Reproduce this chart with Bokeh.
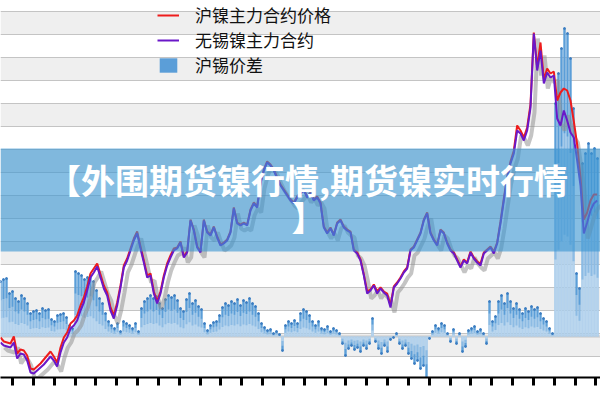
from bokeh.plotting import figure
from bokeh.models import (Range1d, FixedTicker, Legend, LegendItem, BoxAnnotation,
                          Label, Span, ColumnDataSource)
from bokeh.embed import file_html
from bokeh.resources import INLINE

# ---------------- data (price in thousand yuan/ton, spread in yuan/ton) -------------
week = list(range(180))
wuxi_ni = [77.5, 76, 75.5, 75, 77.5, 69.5, 72, 71.5, 68.5, 62.5,
           62, 63.5, 65, 66.5, 68.5, 70.5, 68.5, 65.5, 72.5, 77.5,
           80, 84.5, 86, 88.5, 93.5, 97.5, 103.5, 110, 112.5, 115.5,
           110, 104.5, 101, 93.5, 89.5, 96, 105, 115, 118.5, 123.5,
           128.5, 132, 124.5, 117.5, 110, 111, 102, 97, 102, 110,
           116, 120, 123.5, 124.5, 127.5, 120, 122.5, 138.5, 133.5, 125,
           122.5, 138.5, 132.5, 131, 135, 130, 126, 127, 128.5, 132.5,
           144.5, 137, 136, 137, 136, 143.5, 147, 145, 157, 163.5,
           167.5, 166, 163.5, 159.5, 156, 153.5, 151, 148.5, 147, 150,
           152, 153.5, 150, 152, 148.5, 150, 147, 135, 132, 134.5,
           131, 137, 138.5, 135, 133.5, 132.5, 123.5, 122, 118.5, 111,
           102, 103.5, 106, 102, 104.5, 102.5, 101, 95, 105, 107,
           109.5, 112.5, 114.5, 123.5, 125, 128.5, 132, 138.5, 142, 132,
           128.5, 126, 133.5, 132, 127, 123.5, 122, 118.5, 115, 118.5,
           117, 122.5, 119.5, 117.5, 116, 122, 123.5, 125, 122, 127,
           137, 148.5, 159.5, 167, 172, 183.5, 182, 178.5, 183.5, 195,
           232, 213.5, 223.5, 207, 212.5, 210, 211, 189.5, 186, 193.5,
           188.5, 182.5, 180, 168.5, 156, 132, 137.5, 143.5, 147, 148.5]
shfe_ni = [80, 78, 77.5, 77, 80.5, 72, 74, 73.5, 71, 64.5,
           64, 65.5, 67, 69, 71, 73, 70.5, 67.5, 75, 80,
           82.5, 87, 88.5, 91, 96, 100, 105.5, 112, 114.5, 117,
           111.5, 106, 102.5, 95, 91, 97.5, 106, 116, 119.5, 124.5,
           129.5, 133, 125.5, 118.5, 111, 112, 103, 98, 103, 111,
           117, 121, 124.5, 125, 128, 120.5, 123, 139, 134, 125.5,
           123, 139, 133, 131.5, 135.5, 130.5, 126.5, 127.5, 129, 133,
           145, 137.5, 136.5, 137.5, 136.5, 144, 147.5, 145.5, 157.5, 164,
           168, 166.5, 164, 160, 156.5, 154, 151.5, 149, 147.5, 150.5,
           152.5, 154, 150.5, 152.5, 149, 150.5, 147.5, 135.5, 132.5, 135,
           131.5, 137.5, 139, 135.5, 134, 133, 124, 122.5, 119, 111.5,
           103, 104, 106.5, 103, 105, 103, 102, 96, 105.5, 107.5,
           110, 113, 115, 124, 125.5, 129, 132.5, 139, 142.5, 132.5,
           129, 126.5, 134, 132.5, 127.5, 124, 122.5, 119, 115.5, 119,
           117.5, 123, 120, 118, 117, 122.5, 124, 125.5, 123, 127.5,
           138, 149.5, 160.5, 168, 173.5, 186, 183.5, 180, 185, 196.5,
           232.5, 215, 227.5, 209, 214.5, 212, 213, 198.5, 202.5, 204.5,
           203.5, 198.5, 188, 176.5, 160, 139, 142.5, 148.5, 151.5, 151.5]
spread_idx = list(range(200))
spread = [5500, 5700, 5800, 4300, 4500, 3800, 3500, 4100, 3800, 3300,
          2300, 2500, 2600, 2300, 2800, 2600, 2700, 1700, 1500, 2100,
          2200, 2300, 1900, 1100, 800, 6500, 6300, 6100, 5700, 5900,
          6100, 5500, 4600, 3800, 3300, 2300, 1500, 1100, 800, 1300,
          500, 1500, 1300, 1100, 800, 1300, 500, 2800, 3500, 3800,
          4100, 3800, 4000, 3300, 2800, 3700, 4100, 3900, 4100, 3600,
          2800, 2500, 3700, 4300, 3300, 3600, 3000, 2700, 1300, 600,
          1100, 1400, 1500, 2100, 2900, 3300, 3100, 3500, 3300, 3700,
          3100, 3600, 3400, 3800, 3300, 3000, 2300, 1300, 900, 600,
          700, 300, 500, 200, -1400, 1100, 1500, 1300, 1600, 1300,
          2300, 2700, 2500, 2100, 1500, 1100, 1500, 800, 700, 1000,
          500, 800, 600, 300, -700, -1900, -1200, -900, -1300, -1100,
          -1500, -900, -1200, -700, 1800, -500, -1200, -1700, -900, -1500,
          -300, -100, 300, -700, -1200, -900, -1700, -2200, -2700, -2400,
          -3200, -2900, -4200, -200, 500, 1100, 800, 1300, 1100, 300,
          -500, 700, -700, 300, -1500, -1000, 600, 800, 1000, 500,
          700, 300, -700, 3500, 1500, 2000, 3500, 4100, 3300, 4300,
          3500, 2800, 3300, 2700, 2300, 2800, 2500, 3000, 2700, 2900,
          2300, 1800, 1500, 800, 300, 23300, 26300, 28800, 30800, 30300,
          27800, 22800, 6300, 4800, 17300, 18300, 19300, 18300, 18800, 17800]

series_names = ["沪镍主力合约价格", "无锡镍主力合约", "沪锡价差"]
banner_text = ["【外围期货镍行情,期货镍实时行情", "】"]

line_src = ColumnDataSource(dict(x=week, red=shfe_ni, purple=wuxi_ni))
bar_src = ColumnDataSource(dict(x=spread_idx, v=spread))

# ---------------- figure ----------------
p = figure(width=600, height=400, output_backend="svg", toolbar_location=None,
           x_range=Range1d(0, 180), y_range=Range1d(60, 248.5),
           min_border_left=0, min_border_right=0, min_border_top=0, min_border_bottom=23)
p.outline_line_color = None
p.background_fill_color = "white"

p.extra_x_ranges = {"bx": Range1d(0, 200), "sx": Range1d(-1.2, 178.8)}
p.extra_y_ranges = {"by": Range1d(-4100, 33600),
                    "by2": Range1d(-4100 / 0.66, 33600 / 0.66),
                    "by3": Range1d(-4100 / 0.33, 33600 / 0.33),
                    "sy": Range1d(62.5, 251)}

# grid bands
p.xgrid.visible = False
p.ygrid.ticker = FixedTicker(ticks=[47.5 + 11.5 * k for k in range(18)])
p.ygrid.grid_line_color = "#c4c4c4"
p.ygrid.grid_line_width = 1
p.ygrid.band_fill_color = "#efefef"
p.ygrid.band_fill_alpha = 1.0

p.yaxis.visible = False
ax = p.xaxis[0]
ax.ticker = FixedTicker(ticks=[3.6 + 6.25 * k for k in range(29)])
ax.axis_line_color = "black"
ax.axis_line_width = 2
ax.major_tick_line_color = "black"
ax.major_tick_line_width = 3
ax.major_tick_out = 8
ax.major_tick_in = 0
ax.minor_tick_line_color = None
ax.major_label_text_font_size = "8px"
ax.major_label_text_color = None
ax.major_label_standoff = 0

zero = Span(location=0, dimension="width", y_range_name="by", line_color="#b8b8b8",
            line_dash="1 1", line_width=2.5, level="underlay")
p.add_layout(zero)

# spread bars with simulated gradient
bars = p.vbar(x="x", top="v", bottom=0, width=0.8, source=bar_src, x_range_name="bx",
              y_range_name="by", fill_color="#5b9ed8", line_color=None)
p.vbar(x="x", top="v", bottom=0, width=0.8, source=bar_src, x_range_name="bx",
       y_range_name="by2", fill_color="white", fill_alpha=0.3, line_color=None)
p.vbar(x="x", top="v", bottom=0, width=0.8, source=bar_src, x_range_name="bx",
       y_range_name="by3", fill_color="white", fill_alpha=0.35, line_color=None)
p.scatter(x="x", y="v", source=bar_src, x_range_name="bx", y_range_name="by",
          size=2, color="#3b7dc2")

# lines
p.line(x="x", y="purple", source=line_src, x_range_name="sx", y_range_name="sy",
       line_color="#8a8a8a", line_alpha=0.5, line_width=4)
red = p.line(x="x", y="red", source=line_src, line_color="#ee1c1c", line_width=2)
pur = p.line(x="x", y="purple", source=line_src, line_color="#6a18c8", line_width=2)

legend = Legend(items=[LegendItem(label=series_names[0], renderers=[red]),
                       LegendItem(label=series_names[1], renderers=[pur]),
                       LegendItem(label=series_names[2], renderers=[bars])],
                location=(157, 300), orientation="vertical")
legend.background_fill_alpha = 0
legend.border_line_alpha = 0
legend.padding = 0
legend.spacing = 0
legend.margin = 0
legend.glyph_width = 22
legend.glyph_height = 18
legend.label_height = 25
legend.label_standoff = 16
legend.label_text_font = "Noto Sans CJK SC"
legend.label_text_font_size = "17px"
legend.label_text_color = "#111111"
p.add_layout(legend, "center")

# banner overlay
banner = BoxAnnotation(top=174.5, bottom=123, fill_color=(60, 150, 210), fill_alpha=0.62,
                       line_alpha=0)
p.add_layout(banner)
p.add_layout(Label(x=92.1, y=159, text=banner_text[0], text_align="center",
                   text_baseline="middle", text_color="white", text_font="Noto Sans CJK SC",
                   text_font_style="bold", text_font_size="34px"))
p.add_layout(Label(x=87.3, y=140.5, text=banner_text[1], text_align="left",
                   text_baseline="middle", text_color="white", text_font="Noto Sans CJK SC",
                   text_font_style="bold", text_font_size="34px"))

open("out.html", "w").write(file_html(p, INLINE))
